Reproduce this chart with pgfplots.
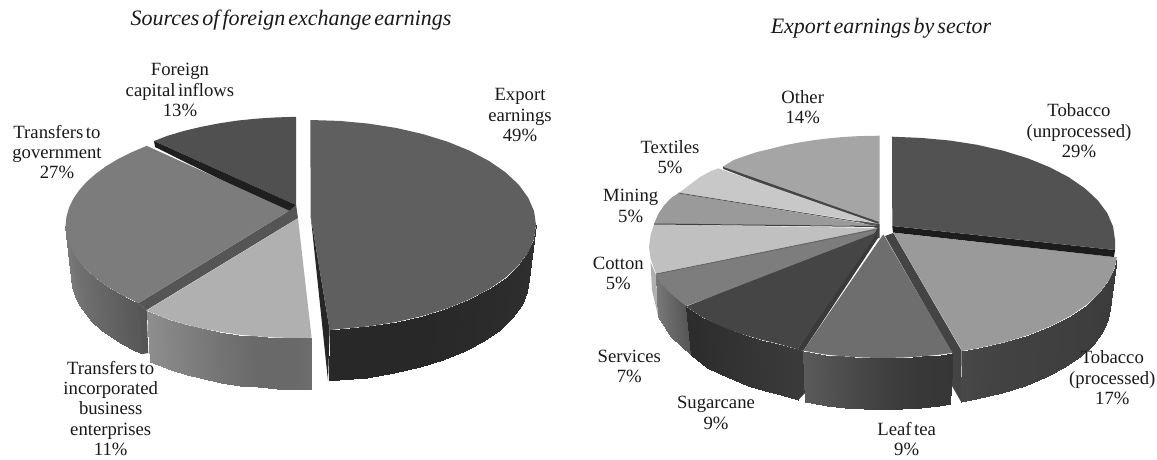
\documentclass[border=0pt]{standalone}
\usepackage{fontspec}
\setmainfont[WordSpace=0.55]{Liberation Serif}
\usepackage{pgfplots}
\pgfplotsset{compat=1.18}

% all coordinates are image pixels, y pointing down
\pgfplotsset{
  side/.style={patch, patch type=rectangle, mesh input=lattice, mesh/rows=2,
    shader=interp, point meta=explicit},
}
\tikzset{lab/.style={align=center, anchor=center, font=\fontsize{18.7}{20.4}\selectfont, text=black!90, inner sep=0pt}}
\tikzset{ttl/.style={anchor=center, font=\fontsize{22}{24}\selectfont\itshape, text=black!90, inner sep=0pt}}

\definecolor{exTop}{HTML}{5F5F5F}
\definecolor{exIn}{HTML}{262626}
\definecolor{fcTop}{HTML}{505050}
\definecolor{fcEdge}{HTML}{1F1F1F}
\definecolor{goTop}{HTML}{7C7C7C}
\definecolor{goEdge}{HTML}{555555}
\definecolor{inTop}{HTML}{B0B0B0}
\definecolor{tuTop}{HTML}{525252}
\definecolor{tuEdge}{HTML}{1C1C1C}
\definecolor{tpTop}{HTML}{9A9A9A}
\definecolor{tpEdge}{HTML}{444444}
\definecolor{ltTop}{HTML}{6E6E6E}
\definecolor{suTop}{HTML}{454545}
\definecolor{suEdge}{HTML}{3A3A3A}
\definecolor{seTop}{HTML}{7D7D7D}
\definecolor{coTop}{HTML}{C0C0C0}
\definecolor{coSide}{HTML}{B0B0B0}
\definecolor{miTop}{HTML}{9A9A9A}
\definecolor{teTop}{HTML}{C8C8C8}
\definecolor{otTop}{HTML}{A5A5A5}
\definecolor{otEdge}{HTML}{444444}

\begin{document}
\begin{tikzpicture}
\begin{axis}[
  width=1157pt, height=459pt, scale only axis,
  xmin=0, xmax=1157, ymin=0, ymax=459, y dir=reverse,
  hide axis, clip=false,
  colormap={gr}{gray(0cm)=(0); gray(1cm)=(1)},
  point meta min=0, point meta max=255,
]
% ---- left pie
% foreign capital inflows
\addplot[fill=fcTop, draw=none] coordinates {
 (154,141) (167.5,135.8) (184,130.9) (201.3,126.8) (219.4,123.3) (238,120.5)
 (257.1,118.6) (276.5,117.4) (296,116.8) (296,205)};
\addplot[fill=fcEdge, draw=none] coordinates {
 (154,141) (296,205) (296,217) (155,147)};
% transfers to government
\addplot[side] table[meta=c] {
x y c
71.5 278 125
72.3 287 122
74.8 295.9 120
78.9 304.7 116
84.6 313.2 112
91.9 321.5 108
100.7 329.5 104
110.9 337.1 100
122.5 344.2 95
135.4 350.8 90
142.7 354 88
65.5 226 125
66.4 235.1 122
68.9 244.1 120
73.1 252.9 116
79 261.6 112
86.5 270 108
95.5 278 104
106 285.7 100
117.9 292.8 95
131.1 299.5 90
138.4 303.2 88
};
\addplot[fill=goEdge, draw=none] coordinates {
 (289.3,210.7) (296,205) (298,218) (146.7,310) (138.3,303.3)};
\addplot[fill=goEdge, draw=none] coordinates {
 (138.3,303.3) (146.7,310) (148.3,353) (142.7,354)};
\addplot[fill=goTop, draw=none] coordinates {
 (146.7,145.8) (131.1,152.5) (117.9,159.1) (106,166.3) (95.5,174) (86.5,182)
 (79,190.4) (73.1,199.1) (68.9,208) (66.4,217) (65.5,226) (66.4,235.1)
 (68.9,244.1) (73.1,252.9) (79,261.6) (86.5,270) (95.5,278) (106,285.7)
 (117.9,292.8) (131.1,299.5) (138.4,303.2) (289.3,210.7)};
% transfers to incorporated business enterprises
\addplot[side] table[meta=c] {
x y c
311.6 337.7 110
296 338 105
276.5 337.6 105
257.1 336.4 105
238 334.5 110
219.4 331.7 116
201.3 328.3 122
184 324.1 128
167.5 319.2 134
146.7 310.5 142
311.2 388.7 110
296 389 105
277 388.6 105
258.1 387.4 105
239.5 385.5 110
221.4 382.8 116
203.9 379.3 122
187 375.2 128
170.9 370.4 134
150.2 361.5 142
};
\addplot[fill=inTop, draw=none] coordinates {
 (298,218.3) (311.6,337.7) (296,338) (276.5,337.6) (257.1,336.4) (238,334.5)
 (219.4,331.7) (201.3,328.3) (184,324.1) (167.5,319.2) (146.7,310.5)};
% export earnings
\addplot[fill=exIn, draw=none] coordinates {
 (310.7,216) (329.7,330) (328,380.7)};
\addplot[side] table[meta=c] {
x y c
529 279 48
527.1 292.3 47
521.5 305.4 46
512.3 318 45
499.7 330 44
483.8 341.1 43
464.9 351.1 42
443.3 359.9 41
419.5 367.3 40
393.8 373.2 40
366.7 377.5 40
338.6 380.1 40
328.5 380.7 40
536 225 48
534.1 238.7 47
528.3 252.2 46
518.8 265.2 45
505.7 277.5 44
489.3 288.9 43
469.8 299.2 42
447.6 308.3 41
423 315.9 40
396.5 322 40
368.5 326.4 40
339.5 329.1 40
329.7 330 40
};
\addplot[fill=exTop, draw=none] coordinates {
 (310.3,120) (339.5,120.9) (368.5,123.6) (396.5,128) (423,134.1) (447.6,141.7)
 (469.8,150.8) (489.3,161.1) (505.7,172.5) (518.8,184.8) (528.3,197.8) (534.1,211.3)
 (536,225) (534.1,238.7) (528.3,252.2) (518.8,265.2) (505.7,277.5) (489.3,288.9)
 (469.8,299.2) (447.6,308.3) (423,315.9) (396.5,322) (368.5,326.4) (339.5,329.1)
 (329.7,330) (310.7,216)};

% ---- right pie
% other
\addplot[fill=otTop, draw=none] coordinates {
 (722.7,166.7) (733.5,160.1) (745,156) (757,152) (770,149) (785,145.2) (800,142.3)
 (815,140) (830,138.2) (842,137.1) (855,136.3) (867,135.9) (879.5,135.7) (879.5,224)};
\addplot[fill=otEdge, draw=none] coordinates {
 (722.7,166.7) (878.7,222) (878.5,229) (723.5,169)};
% textiles
\addplot[fill=teTop, draw=none] coordinates {
 (679.3,192.7) (690,184.5) (700,177) (710,171.5) (718.3,168.3) (878.7,224)};
% mining
\addplot[fill=miTop, draw=none] coordinates {
 (654,224) (658,214.5) (664,205.4) (671,198) (678.3,193.3) (878.7,226)};
\addplot[black!65, line width=0.9pt] coordinates {(678.3,193) (878,225)};
% cotton
\addplot[fill=coSide, draw=none] coordinates {
 (650.5,262) (656,275) (658.3,316.7) (652,290)};
\addplot[fill=coTop, draw=none] coordinates {
 (654,224.5) (650.6,235) (649,247) (650.6,259) (656,273.5) (878.7,228)};
\addplot[black!75, line width=1pt] coordinates {(654,224) (878,226.5)};
% services
\addplot[side] table[meta=c] {
x y c
658.3 316.7 120
671 337 105
690.7 355 85
656 275 120
668 291 105
686 305 85
};
\addplot[fill=seTop, draw=none] coordinates {
 (656,274) (661,283) (668,291) (676,298) (686,306) (878.7,236) (878.7,228)};
\addplot[black!60, line width=0.9pt] coordinates {(656,274) (878,229)};
% sugarcane
\addplot[side] table[meta=c] {
x y c
690.7 355 44
706.8 367.5 46
719.6 374.4 48
733.5 380 50
748.4 385.7 52
764.5 390.5 54
781.2 394.5 56
798.3 400 58
686 306.5 44
701.4 316.7 46
714.6 323.3 48
729 329.4 50
744.5 334.9 52
761 339.7 54
778.2 343.8 56
797.3 349.3 58
};
\addplot[fill=suEdge, draw=none] coordinates {
 (878.7,227) (878,238) (803.3,350.7) (797.3,349.3)};
\addplot[fill=suEdge, draw=none] coordinates {
 (797.3,349.3) (803.3,350.7) (805,393) (798.3,400)};
\addplot[fill=suTop, draw=none] coordinates {
 (686,306.5) (701.4,316.7) (714.6,323.3) (729,329.4) (744.5,334.9) (761,339.7)
 (778.2,343.8) (797.3,349.3) (878,232)};
\addplot[fill=otEdge, draw=none] coordinates {
 (878,224) (879.5,224) (879.5,238) (877,238)};
% tobacco (processed), inner face first
\addplot[fill=tpEdge, draw=none] coordinates {
 (893.3,233) (961.7,351) (961,401.7) (952,386) (952,353) (885,236)};
\addplot[side] table[meta=c] {
x y c
960.5 402 72
976 399.2 69
1001.5 393.3 66
1025.1 385.9 65
1046.4 377.1 64
1065.2 367.1 63
1080.9 356 62
1093.5 344 61
1102.6 331.4 60
1107.9 319.2 59
1109.8 309.3 58
962.2 351 72
978.7 348.2 69
1005 342.2 66
1029.4 334.7 65
1051.4 325.8 64
1070.7 315.7 63
1087 304.5 62
1100 292.4 61
1109.4 279.7 60
1114.8 267.3 59
1116.8 257.3 58
};
\addplot[fill=tpTop, draw=none] coordinates {
 (893.3,232.7) (1116.8,257.3) (1114.8,267.3) (1109.4,279.7) (1100,292.4) (1087,304.5)
 (1070.7,315.7) (1051.4,325.8) (1029.4,334.7) (1005,342.2) (978.7,348.2) (962.2,351)};
% leaf tea
\addplot[side] table[meta=c] {
x y c
805 402.2 90
826.8 405.5 83
845.3 407.5 76
864.1 408.6 70
883 409 64
901.9 408.6 60
920.7 407.5 56
939.2 405.5 55
950.4 404 54
803.3 350.7 90
825 354.5 83
844.1 356.4 76
863.5 357.6 70
883 358 64
902.5 357.6 60
921.9 356.4 56
941 354.5 55
952.6 352.9 54
};
\addplot[fill=ltTop, draw=none] coordinates {
 (883.3,234.3) (952.6,352.9) (941,354.5) (921.9,356.4) (902.5,357.6) (883,358)
 (863.5,357.6) (844.1,356.4) (825,354.5) (803.3,350.7)};
% tobacco (unprocessed)
\addplot[fill=tuEdge, draw=none] coordinates {
 (892.3,226) (1115,250) (1114,257) (893,232.5)};
\addplot[fill=tuTop, draw=none] coordinates {
 (892,136.7) (921.1,137.9) (949.7,140.5) (977.3,144.8) (1003.5,150.8) (1027.8,158.3)
 (1049.7,167.2) (1068.9,177.3) (1085.1,188.5) (1098,200.6) (1107.4,213.3) (1113.1,226.6)
 (1115,240) (1115,250) (892.3,226)};

% ---- text
\node[ttl] at (axis cs:291,20.5) {Sources of foreign exchange earnings};
\node[ttl] at (axis cs:881,28.5) {Export earnings by sector};
\node[lab] at (axis cs:180,90) {Foreign\\capital inflows\\13\%};
\node[lab] at (axis cs:520,115) {Export\\earnings\\49\%};
\node[lab] at (axis cs:57,152) {Transfers to\\government\\27\%};
\node[lab] at (axis cs:110.7,408.5) {Transfers to\\incorporated\\business\\enterprises\\11\%};
\node[lab] at (axis cs:802.7,107) {Other\\14\%};
\node[lab] at (axis cs:670,157) {Textiles\\5\%};
\node[lab] at (axis cs:630.7,206) {Mining\\5\%};
\node[lab] at (axis cs:618.3,273.5) {Cotton\\5\%};
\node[lab] at (axis cs:629.3,366.7) {Services\\7\%};
\node[lab] at (axis cs:716,413) {Sugarcane\\9\%};
\node[lab] at (axis cs:906.7,439) {Leaf tea\\9\%};
\node[lab] at (axis cs:1079,131) {Tobacco\\(unprocessed)\\29\%};
\node[lab] at (axis cs:1112.3,378) {Tobacco\\(processed)\\17\%};
\path[use as bounding box] (axis cs:0,0) rectangle (axis cs:1157,459);
\end{axis}
\end{tikzpicture}
\end{document}
